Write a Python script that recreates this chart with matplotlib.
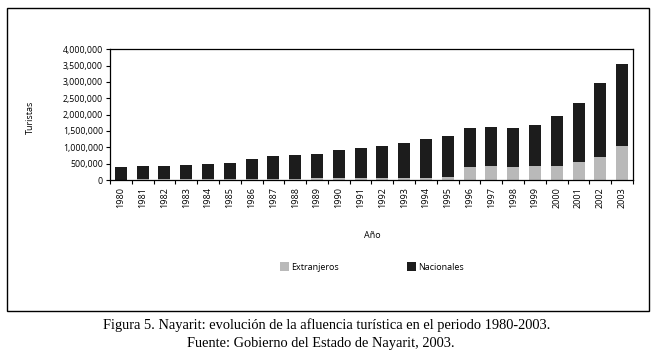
import matplotlib
matplotlib.use("Agg")
import matplotlib.pyplot as plt
from matplotlib.patches import Rectangle, Patch
from matplotlib.ticker import FuncFormatter, FixedLocator
import numpy as np

years = [str(y) for y in range(1980, 2004)]
extranjeros = [15000, 18000, 18000, 20000, 20000, 22000, 25000, 40000, 45000, 50000,
               70000, 70000, 70000, 70000, 70000, 100000, 410000, 440000, 410000, 440000,
               440000, 560000, 715000, 1050000]
totales = [405000, 430000, 430000, 460000, 490000, 530000, 650000, 745000, 765000, 805000,
           930000, 990000, 1050000, 1140000, 1265000, 1355000, 1600000, 1630000, 1600000, 1695000,
           1970000, 2365000, 2980000, 3560000]
nacionales = [t - e for t, e in zip(totales, extranjeros)]

plt.rcParams['font.family'] = ['Open Sans', 'DejaVu Sans']

W, H = 655, 358
fig = plt.figure(figsize=(W / 100, H / 100), dpi=100)

# outer frame
fig.patches.append(Rectangle((7 / W, 1 - 311 / H), 642 / W, 303 / H, transform=fig.transFigure,
                             fill=False, edgecolor='black', linewidth=1.0))

ax = fig.add_axes([110 / W, 1 - 180 / H, 523 / W, 130.7 / H])
x = np.arange(len(years))
grey = '#b9b9b9'
dark = '#1c1c1c'
ax.bar(x, extranjeros, width=0.55, color=grey, label='Extranjeros')
ax.bar(x, nacionales, width=0.55, bottom=extranjeros, color=dark, label='Nacionales')

ax.set_xlim(-0.5, len(years) - 0.5)
ax.set_ylim(0, 4000000)
ax.set_yticks(np.arange(0, 4000001, 500000))
ax.yaxis.set_major_formatter(FuncFormatter(lambda v, p: f"{int(v):,}"))
ax.tick_params(axis='y', labelsize=6.3, length=3, width=0.8, pad=2)

ax.xaxis.set_major_locator(FixedLocator(np.arange(-0.5, len(years), 1.0)))
ax.xaxis.set_major_formatter(FuncFormatter(lambda v, p: ''))
ax.xaxis.set_minor_locator(FixedLocator(x))
ax.set_xticks(x, minor=True)
ax.set_xticklabels(years, minor=True, rotation=90, fontsize=6.5)
ax.tick_params(axis='x', which='major', length=3, width=0.8)
ax.tick_params(axis='x', which='minor', length=0, pad=5)

for s in ax.spines.values():
    s.set_linewidth(0.9)

fig.text(30 / W, 1 - 117 / H, 'Turistas', rotation=90, fontsize=6.5, ha='center', va='center')
fig.text(372 / W, 1 - 235 / H, 'Año', fontsize=6.5, ha='center', va='center')

handles = [Patch(facecolor=grey, label='Extranjeros'), Patch(facecolor=dark, label='Nacionales')]
fig.legend(handles=handles, loc='center', bbox_to_anchor=(372 / W, 1 - 267 / H), ncol=2,
           frameon=False, fontsize=6.5, handlelength=1.0, handleheight=1.0,
           handletextpad=0.2, columnspacing=7.6)

serif = ['Liberation Serif', 'DejaVu Serif']
fig.text(327 / W, 1 - 329.5 / H, 'Figura 5. Nayarit: evolución de la afluencia turística en el periodo 1980-2003.',
         fontsize=10.4, ha='center', va='baseline', family=serif)
fig.text(321 / W, 1 - 346.5 / H, 'Fuente: Gobierno del Estado de Nayarit, 2003.',
         fontsize=10.4, ha='center', va='baseline', family=serif)

fig.savefig('out.png', dpi=100)
